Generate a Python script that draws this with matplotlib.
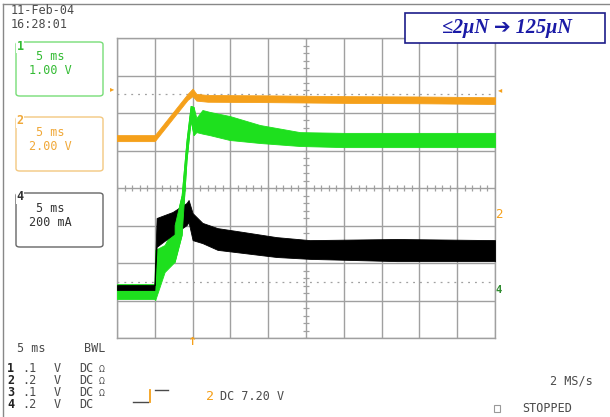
import numpy as np
import matplotlib
matplotlib.use("Agg")
import matplotlib.pyplot as plt
from matplotlib.patches import FancyBboxPatch, Rectangle
from matplotlib.lines import Line2D

W, H = 610, 417

# time axis in ms (5 ms/div, trigger at 0), vertical values in screen divisions
# ch2 (orange)
t_ch2 = [-10, -5.0, -0.66, 0.0, 0.5, 2, 10, 20, 30, 40]
ch2_mid = [5.33, 5.33, 6.43, 6.55, 6.42, 6.39, 6.38, 6.36, 6.35, 6.33]
ch2_half = [0.08, 0.08, 0.08, 0.10, 0.09, 0.09, 0.09, 0.09, 0.09, 0.09]

# ch1 (green) envelope
t_ch1 = [-10, -5.05, -4.95, -3.7, -2.38, -1.45, -0.8, -0.26, 0.13, 0.5, 1.3,
         2.25, 4.9, 8.9, 14.2, 20, 30, 40]
ch1_hi = [1.44, 1.44, 2.35, 2.48, 3.01, 3.81, 5.28, 6.19, 6.16, 5.87, 6.08,
          6.03, 5.92, 5.68, 5.49, 5.47, 5.47, 5.47]
ch1_lo = [1.04, 1.04, 1.01, 1.76, 2.03, 2.75, 4.75, 5.81, 5.41, 5.49, 5.45,
          5.41, 5.28, 5.20, 5.12, 5.09, 5.09, 5.09]

# ch4 (black) envelope
t_ch4 = [-10, -5.05, -4.76, -2.65, -0.8, -0.53, 0.0, 1.3, 3.3, 6.6, 11.1,
         15.5, 27, 40]
ch4_hi = [1.41, 1.41, 3.20, 3.36, 3.60, 3.68, 3.33, 3.07, 2.93, 2.83, 2.69,
          2.61, 2.64, 2.61]
ch4_lo = [1.28, 1.28, 2.43, 2.75, 3.01, 3.09, 2.61, 2.53, 2.35, 2.27, 2.16,
          2.11, 2.05, 2.05]

ORANGE = "#f5a01a"
GREEN = "#1ee01e"
GRID = "#a0a0a0"
TXT = "#4a4a4a"
MONO = "DejaVu Sans Mono"
FS = 8.5


def fx(x):
    return x / W


def fy(y):
    return 1 - y / H


fig = plt.figure(figsize=(W / 100, H / 100), dpi=100)
fig.patch.set_facecolor("white")

# graticule
ax = fig.add_axes([fx(117), fy(338), (495 - 117) / W, 300 / H])
ax.set_xlim(-10, 40)
ax.set_ylim(0, 8)
ax.set_xticks(np.arange(-10, 41, 5))
ax.set_yticks(np.arange(0, 9, 1))
ax.tick_params(length=0, labelbottom=False, labelleft=False)
ax.grid(True, color=GRID, lw=1.0)
for s in ax.spines.values():
    s.set_color(GRID)
    s.set_linewidth(1.0)
ax.set_axisbelow(True)

# centre cross ticks and dotted rise-time lines
ax.plot(np.arange(-10, 40.1, 1), [4] * 51, ls="", marker="|", ms=5,
        color=GRID, mew=0.9, zorder=1)
ax.plot([15] * 41, np.arange(0, 8.01, 0.2), ls="", marker="_", ms=5,
        color=GRID, mew=0.9, zorder=1)
for yy in (1.5, 6.5):
    ax.axhline(yy, color=GRID, lw=0.9, ls=(0, (1.5, 4)), zorder=1)

# traces
mid = np.array(ch2_mid)
half = np.array(ch2_half)
ax.fill_between(t_ch2, mid - half, mid + half, color=ORANGE, lw=0.6,
                edgecolor=ORANGE, zorder=3)
ax.fill_between(t_ch1, ch1_lo, ch1_hi, color=GREEN, lw=0.6,
                edgecolor=GREEN, zorder=3)
ax.fill_between(t_ch4, ch4_lo, ch4_hi, color="black", lw=0.6,
                edgecolor="black", zorder=4)
# green rising edge drawn over the black trace
rise = slice(4, 9)
ax.fill_between(t_ch1[rise], ch1_lo[rise], ch1_hi[rise], color=GREEN,
                lw=0.6, edgecolor=GREEN, zorder=5)

# outer frame lines
fig.add_artist(Line2D([fx(3), fx(3)], [fy(4), 0], color="#888888", lw=1))
fig.add_artist(Line2D([fx(3), 1], [fy(4), fy(4)], color="#888888", lw=1))

# date / time
fig.text(fx(11), fy(10), "11-Feb-04", family=MONO, fontsize=FS, color=TXT,
         va="center")
fig.text(fx(11), fy(24), "16:28:01", family=MONO, fontsize=FS, color=TXT,
         va="center")

# channel boxes
boxes = [
    (42, "#77dd77", "#33bb33", "1", "1.00 V"),
    (117, "#f3c880", "#f0a838", "2", "2.00 V"),
    (193, "#666666", "#333333", "4", "200 mA"),
]
for top, ec, tc, num, scale in boxes:
    fig.add_artist(FancyBboxPatch((fx(16), fy(top + 54)), 87 / W, 54 / H,
                                  boxstyle="round,pad=0,rounding_size=0.006",
                                  transform=fig.transFigure, fc="white",
                                  ec=ec, lw=1.0))
    fig.text(fx(20), fy(top + 4), num, family=MONO, fontsize=FS,
             fontweight="bold", color=tc, va="center", ha="center",
             bbox=dict(fc="white", ec="none", pad=0.3))
    fig.text(fx(50), fy(top + 15), "5 ms", family=MONO, fontsize=FS,
             color=tc, va="center", ha="center")
    fig.text(fx(50), fy(top + 29), scale, family=MONO, fontsize=FS,
             color=tc, va="center", ha="center")

# level markers around graticule
fig.text(fx(112), fy(89), "▸", fontsize=6, color=ORANGE, ha="center",
         va="center")
fig.text(fx(500), fy(90), "◂", fontsize=6, color=ORANGE, ha="center",
         va="center")
fig.text(fx(499), fy(215), "2", family=MONO, fontsize=9, color=ORANGE,
         ha="center", va="center")
fig.text(fx(499), fy(290), "4", family=MONO, fontsize=7.5, color="#2e8b2e",
         fontweight="bold", ha="center", va="center")
fig.text(fx(193), fy(342), "↑", fontsize=8, color=ORANGE, ha="center",
         va="center", fontweight="bold")

# bottom settings readout
fig.text(fx(17), fy(348), "5 ms", family=MONO, fontsize=FS, color=TXT,
         va="center")
fig.text(fx(84), fy(348), "BWL", family=MONO, fontsize=FS, color=TXT,
         va="center")
rows = [("1", ".1", "V", "DC", "Ω"), ("2", ".2", "V", "DC", "Ω"),
        ("3", ".1", "V", "DC", "Ω"), ("4", ".2", "V", "DC", "")]
for i, (ch, v, u, cpl, imp) in enumerate(rows):
    y = fy(369 + i * 12)
    fig.text(fx(7), y, ch, family=MONO, fontsize=FS, fontweight="bold",
             color="#222222", va="center")
    fig.text(fx(22), y, v, family=MONO, fontsize=FS, color=TXT, va="center")
    fig.text(fx(54), y, u, family=MONO, fontsize=FS, color=TXT, va="center")
    fig.text(fx(79), y, cpl, family=MONO, fontsize=FS, color=TXT,
             va="center")
    fig.text(fx(99), y, imp, family="DejaVu Sans", fontsize=5.5, color=TXT,
             va="center")

# trigger glyph and level
fig.add_artist(Line2D([fx(133), fx(148)], [fy(402), fy(402)], color=TXT,
                      lw=1))
fig.add_artist(Line2D([fx(150), fx(150)], [fy(402), fy(390)], color=ORANGE,
                      lw=1.3))
fig.add_artist(Line2D([fx(155), fx(168)], [fy(390), fy(390)], color=TXT,
                      lw=1))
fig.text(fx(206), fy(396), "2", family=MONO, fontsize=9.5, color=ORANGE,
         va="center")
fig.text(fx(220), fy(396), "DC 7.20 V", family=MONO, fontsize=FS,
         color=TXT, va="center")

fig.text(fx(593), fy(381), "2 MS/s", family=MONO, fontsize=FS, color=TXT,
         va="center", ha="right")
fig.add_artist(Rectangle((fx(494), fy(412)), 6 / W, 7 / H, fill=False,
                         ec="#999999", lw=0.8, transform=fig.transFigure))
fig.text(fx(522), fy(408), "STOPPED", family=MONO, fontsize=FS, color=TXT,
         va="center")

# annotation box
fig.add_artist(Rectangle((fx(405), fy(43)), 200 / W, 30 / H, fc="white",
                         ec="#1c1c8a", lw=1.2, transform=fig.transFigure,
                         zorder=10))
fig.text(fx(507), fy(28), "≤2μN ➔ 125μN",
         family=["Liberation Serif", "DejaVu Sans"], fontsize=14.5,
         fontweight="bold", style="italic", color="#1a1aa6", ha="center",
         va="center", zorder=11)

fig.savefig("out.png", dpi=100)
